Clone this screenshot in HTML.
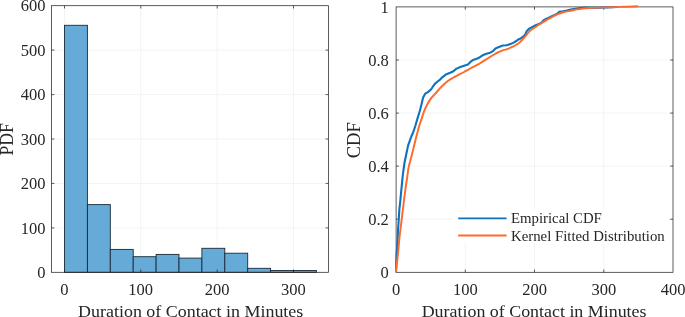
<!DOCTYPE html>
<html><head><meta charset="utf-8"><title>Contact duration</title><style>html,body{margin:0;padding:0;background:#fff}</style></head><body>
<svg width="685" height="317" viewBox="0 0 685 317" style="display:block;will-change:transform;font-family:'Liberation Serif',serif;fill:#262626">
<rect width="685" height="317" fill="#fff"/>
<line x1="64.5" x2="64.5" y1="5.7" y2="272.3" stroke="#f3f3f3" stroke-width="1"/>
<line x1="140.8" x2="140.8" y1="5.7" y2="272.3" stroke="#f3f3f3" stroke-width="1"/>
<line x1="217.2" x2="217.2" y1="5.7" y2="272.3" stroke="#f3f3f3" stroke-width="1"/>
<line x1="293.5" x2="293.5" y1="5.7" y2="272.3" stroke="#f3f3f3" stroke-width="1"/>
<line x1="51.6" x2="328.4" y1="227.9" y2="227.9" stroke="#f3f3f3" stroke-width="1"/>
<line x1="51.6" x2="328.4" y1="183.4" y2="183.4" stroke="#f3f3f3" stroke-width="1"/>
<line x1="51.6" x2="328.4" y1="139.0" y2="139.0" stroke="#f3f3f3" stroke-width="1"/>
<line x1="51.6" x2="328.4" y1="94.6" y2="94.6" stroke="#f3f3f3" stroke-width="1"/>
<line x1="51.6" x2="328.4" y1="50.1" y2="50.1" stroke="#f3f3f3" stroke-width="1"/>
<rect x="64.5" y="25.3" width="22.9" height="247.0" fill="#66aad7" stroke="#1a2a38" stroke-width="0.9"/>
<rect x="87.4" y="204.6" width="22.9" height="67.7" fill="#66aad7" stroke="#1a2a38" stroke-width="0.9"/>
<rect x="110.3" y="249.4" width="22.9" height="22.9" fill="#66aad7" stroke="#1a2a38" stroke-width="0.9"/>
<rect x="133.2" y="256.7" width="22.9" height="15.6" fill="#66aad7" stroke="#1a2a38" stroke-width="0.9"/>
<rect x="156.1" y="254.4" width="22.9" height="17.9" fill="#66aad7" stroke="#1a2a38" stroke-width="0.9"/>
<rect x="179.0" y="258.1" width="22.9" height="14.2" fill="#66aad7" stroke="#1a2a38" stroke-width="0.9"/>
<rect x="201.9" y="248.3" width="22.9" height="24.0" fill="#66aad7" stroke="#1a2a38" stroke-width="0.9"/>
<rect x="224.8" y="253.2" width="22.9" height="19.1" fill="#66aad7" stroke="#1a2a38" stroke-width="0.9"/>
<rect x="247.7" y="268.3" width="22.9" height="4.0" fill="#66aad7" stroke="#1a2a38" stroke-width="0.9"/>
<rect x="270.6" y="270.5" width="22.9" height="1.8" fill="#66aad7" stroke="#1a2a38" stroke-width="0.9"/>
<rect x="293.5" y="270.5" width="22.9" height="1.8" fill="#66aad7" stroke="#1a2a38" stroke-width="0.9"/>
<rect x="51.6" y="5.7" width="276.8" height="266.6" fill="none" stroke="#262626" stroke-width="0.75"/>
<path d="M64.5 272.3v-2.8M64.5 5.7v2.8" stroke="#262626" stroke-width="0.75"/>
<text x="64.3" y="295" font-size="16.5" text-anchor="middle">0</text>
<path d="M140.8 272.3v-2.8M140.8 5.7v2.8" stroke="#262626" stroke-width="0.75"/>
<text x="140.6" y="295" font-size="16.5" text-anchor="middle">100</text>
<path d="M217.2 272.3v-2.8M217.2 5.7v2.8" stroke="#262626" stroke-width="0.75"/>
<text x="217.0" y="295" font-size="16.5" text-anchor="middle">200</text>
<path d="M293.5 272.3v-2.8M293.5 5.7v2.8" stroke="#262626" stroke-width="0.75"/>
<text x="293.3" y="295" font-size="16.5" text-anchor="middle">300</text>
<text x="45.6" y="278.4" font-size="16.5" text-anchor="end">0</text>
<path d="M51.6 227.9h2.8M328.4 227.9h-2.8" stroke="#262626" stroke-width="0.75"/>
<text x="45.6" y="233.9" font-size="16.5" text-anchor="end">100</text>
<path d="M51.6 183.4h2.8M328.4 183.4h-2.8" stroke="#262626" stroke-width="0.75"/>
<text x="45.6" y="189.4" font-size="16.5" text-anchor="end">200</text>
<path d="M51.6 139.0h2.8M328.4 139.0h-2.8" stroke="#262626" stroke-width="0.75"/>
<text x="45.6" y="144.8" font-size="16.5" text-anchor="end">300</text>
<path d="M51.6 94.6h2.8M328.4 94.6h-2.8" stroke="#262626" stroke-width="0.75"/>
<text x="45.6" y="100.3" font-size="16.5" text-anchor="end">400</text>
<path d="M51.6 50.1h2.8M328.4 50.1h-2.8" stroke="#262626" stroke-width="0.75"/>
<text x="45.6" y="55.7" font-size="16.5" text-anchor="end">500</text>
<text x="45.6" y="11.2" font-size="16.5" text-anchor="end">600</text>
<text x="78.1" y="316.9" font-size="17.3" textLength="225.2" lengthAdjust="spacingAndGlyphs">Duration of Contact in Minutes</text>
<text transform="translate(12.9,139.3) rotate(-90) scale(1,1.11)" font-size="17.7" text-anchor="middle">PDF</text>
<line x1="465.3" x2="465.3" y1="6.9" y2="272.3" stroke="#f3f3f3" stroke-width="1"/>
<line x1="534.5" x2="534.5" y1="6.9" y2="272.3" stroke="#f3f3f3" stroke-width="1"/>
<line x1="603.8" x2="603.8" y1="6.9" y2="272.3" stroke="#f3f3f3" stroke-width="1"/>
<line x1="396.1" x2="673.0" y1="219.2" y2="219.2" stroke="#f3f3f3" stroke-width="1"/>
<line x1="396.1" x2="673.0" y1="166.1" y2="166.1" stroke="#f3f3f3" stroke-width="1"/>
<line x1="396.1" x2="673.0" y1="113.1" y2="113.1" stroke="#f3f3f3" stroke-width="1"/>
<line x1="396.1" x2="673.0" y1="60.0" y2="60.0" stroke="#f3f3f3" stroke-width="1"/>
<rect x="396.1" y="6.9" width="276.9" height="265.4" fill="none" stroke="#262626" stroke-width="0.75"/>
<text x="396.1" y="295" font-size="16.5" text-anchor="middle">0</text>
<path d="M465.3 272.3v-2.8M465.3 6.9v2.8" stroke="#262626" stroke-width="0.75"/>
<text x="465.3" y="295" font-size="16.5" text-anchor="middle">100</text>
<path d="M534.5 272.3v-2.8M534.5 6.9v2.8" stroke="#262626" stroke-width="0.75"/>
<text x="534.5" y="295" font-size="16.5" text-anchor="middle">200</text>
<path d="M603.8 272.3v-2.8M603.8 6.9v2.8" stroke="#262626" stroke-width="0.75"/>
<text x="603.8" y="295" font-size="16.5" text-anchor="middle">300</text>
<text x="673.0" y="295" font-size="16.5" text-anchor="middle">400</text>
<text x="388.8" y="278.4" font-size="16.5" text-anchor="end">0</text>
<path d="M396.1 219.2h2.8M673.0 219.2h-2.8" stroke="#262626" stroke-width="0.75"/>
<text x="388.8" y="225.3" font-size="16.5" text-anchor="end">0.2</text>
<path d="M396.1 166.1h2.8M673.0 166.1h-2.8" stroke="#262626" stroke-width="0.75"/>
<text x="388.8" y="172.1" font-size="16.5" text-anchor="end">0.4</text>
<path d="M396.1 113.1h2.8M673.0 113.1h-2.8" stroke="#262626" stroke-width="0.75"/>
<text x="388.8" y="118.9" font-size="16.5" text-anchor="end">0.6</text>
<path d="M396.1 60.0h2.8M673.0 60.0h-2.8" stroke="#262626" stroke-width="0.75"/>
<text x="388.8" y="65.7" font-size="16.5" text-anchor="end">0.8</text>
<text x="388.8" y="12.5" font-size="16.5" text-anchor="end">1</text>
<polyline points="396.0,272.3 396.5,256.2 397.2,246.1 397.8,236.0 398.0,230.3 398.7,220.2 399.3,210.1 400.2,202.0 400.8,195.3 401.8,185.2 402.8,175.1 403.9,167.0 404.5,162.8 406.3,154.0 408.2,145.1 411.4,136.3 412.9,133.0 415.3,126.0 417.6,118.1 420.0,110.2 421.6,103.9 423.1,97.6 425.2,93.7 427.9,92.1 431.0,89.5 432.5,87.2 435.1,83.6 437.6,81.5 440.1,79.6 442.6,77.1 446.4,74.2 450.2,72.7 453.4,71.2 456.5,68.6 460.3,67.0 464.1,65.7 467.9,64.5 470.4,61.9 472.9,60.1 476.7,58.8 478.8,57.8 482.6,55.3 486.4,53.7 490.2,52.7 493.3,50.8 495.8,48.3 499.0,47.0 502.8,45.5 506.6,45.2 510.4,44.1 514.1,42.4 517.9,39.8 520.0,38.8 522.5,37.2 525.1,34.7 526.9,30.9 528.8,29.0 532.0,27.1 535.2,25.5 538.9,23.9 541.5,22.7 543.4,20.4 546.5,18.6 550.3,17.0 554.1,15.1 557.2,13.8 559.1,11.9 562.9,11.3 566.7,10.5 570.8,9.5 576.7,8.5 582.5,7.9 586.0,7.6 590.0,7.7 600.0,7.6 611.7,7.2 618.0,7.0" fill="none" stroke="#0f72be" stroke-width="2.1" stroke-linejoin="round"/>
<path d="M395.9 272.3C396.0 271.3 396.2 269.0 396.5 266.3C396.8 263.6 397.3 259.6 397.7 256.2C398.1 252.8 398.4 249.2 398.7 246.1C399.0 243.0 399.2 240.1 399.5 237.5C399.8 234.9 399.9 233.2 400.3 230.3C400.7 227.4 401.2 223.6 401.6 220.2C402.0 216.8 402.4 213.1 402.8 210.1C403.2 207.1 403.5 204.5 403.8 202.0C404.1 199.5 404.2 198.1 404.6 195.3C405.0 192.5 405.5 188.6 406.0 185.2C406.5 181.8 407.1 178.1 407.5 175.1C407.9 172.1 408.1 169.7 408.7 167.0C409.2 164.3 410.0 162.0 410.8 159.0C411.6 156.0 412.5 152.3 413.3 148.9C414.1 145.5 415.2 141.2 415.8 138.8C416.4 136.4 416.3 136.6 416.9 134.5C417.5 132.4 418.4 128.6 419.2 126.0C420.0 123.4 420.8 121.3 421.6 118.9C422.4 116.5 423.0 114.2 423.9 111.8C424.8 109.4 425.9 106.9 427.1 104.7C428.3 102.5 429.8 100.1 431.0 98.4C432.2 96.7 433.5 95.6 434.6 94.4C435.7 93.2 436.5 92.3 437.6 91.0C438.7 89.7 440.1 88.1 441.4 86.8C442.7 85.5 443.9 84.3 445.2 83.2C446.4 82.1 447.6 81.2 448.9 80.3C450.1 79.4 451.4 78.8 452.7 78.0C454.0 77.2 455.2 76.5 456.5 75.8C457.8 75.1 459.0 74.5 460.3 73.9C461.6 73.3 462.8 72.7 464.1 72.0C465.4 71.3 466.6 70.6 467.9 69.9C469.2 69.2 470.5 68.3 471.7 67.6C472.9 66.9 474.1 66.5 475.3 65.9C476.5 65.3 477.6 64.8 478.8 64.1C480.0 63.4 481.3 62.4 482.6 61.6C483.9 60.8 485.1 60.1 486.4 59.3C487.7 58.5 488.9 57.6 490.2 56.8C491.4 56.0 492.6 55.3 493.9 54.6C495.1 53.9 496.4 53.1 497.7 52.5C499.0 51.9 500.2 51.3 501.5 50.8C502.8 50.3 504.0 50.0 505.3 49.6C506.6 49.2 507.8 48.8 509.1 48.3C510.4 47.8 511.6 47.3 512.9 46.7C514.2 46.1 515.5 45.3 516.7 44.5C517.9 43.7 519.2 42.7 520.2 41.9C521.2 41.1 521.7 40.5 522.5 39.6C523.3 38.7 524.2 37.7 525.1 36.7C526.0 35.7 526.8 34.4 527.6 33.4C528.4 32.4 529.1 31.8 530.1 30.9C531.1 30.0 532.6 28.9 533.9 28.0C535.2 27.1 536.4 26.3 537.7 25.5C539.0 24.7 540.2 23.9 541.5 23.1C542.8 22.3 544.0 21.6 545.3 20.8C546.5 20.1 547.8 19.3 549.0 18.6C550.2 17.9 551.5 17.2 552.8 16.6C554.1 16.0 555.3 15.3 556.6 14.7C557.9 14.1 559.1 13.6 560.4 13.2C561.7 12.8 562.5 12.4 564.2 12.0C565.9 11.6 568.3 11.2 570.4 10.8C572.5 10.4 574.7 9.8 576.7 9.4C578.7 9.0 580.5 8.8 582.5 8.6C584.5 8.4 585.5 8.2 588.4 8.0C591.3 7.8 596.1 7.7 600.0 7.6C603.9 7.5 607.8 7.3 611.7 7.2C615.6 7.1 619.0 6.9 623.4 6.7C627.8 6.5 635.6 6.4 638.0 6.3" fill="none" stroke="#ff6a2b" stroke-width="1.95" stroke-linejoin="round"/>
<rect x="453" y="209.5" width="215" height="33.5" fill="#fff"/>
<line x1="458.2" x2="506.6" y1="218.3" y2="218.3" stroke="#0f72be" stroke-width="1.8"/>
<line x1="458.2" x2="506.6" y1="235.5" y2="235.5" stroke="#ff6a2b" stroke-width="1.8"/>
<text x="511.0" y="223.3" font-size="14.8">Empirical CDF</text>
<text x="511.0" y="240.9" font-size="14.8">Kernel Fitted Distribution</text>
<text x="421.7" y="316.9" font-size="17.3" textLength="224.8" lengthAdjust="spacingAndGlyphs">Duration of Contact in Minutes</text>
<text transform="translate(360.1,140.2) rotate(-90)" font-size="18.6" text-anchor="middle">CDF</text>
</svg>
</body></html>
